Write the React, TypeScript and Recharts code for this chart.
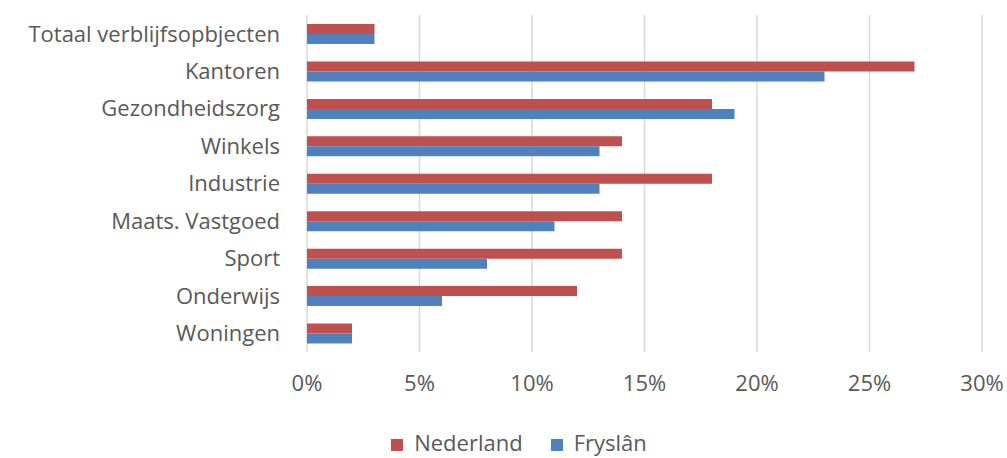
import React from 'react';
import { BarChart, Bar, XAxis, YAxis, CartesianGrid, Legend } from 'recharts';

const categories = [
    'Totaal verblijfsopbjecten',
    'Kantoren',
    'Gezondheidszorg',
    'Winkels',
    'Industrie',
    'Maats. Vastgoed',
    'Sport',
    'Onderwijs',
    'Woningen',
];
const nederland = [3, 27, 18, 14, 18, 14, 14, 12, 2];
const fryslan = [3, 23, 19, 13, 13, 11, 8, 6, 2];
const xTicks = [0, 5, 10, 15, 20, 25, 30];

const data = categories.map((name, i) => ({ name, Nederland: nederland[i], Fryslan: fryslan[i] }));

const textColor = '#595959';
const font = '"Open Sans", sans-serif';
const legendOrder: Record<string, number> = { Nederland: 0, 'Fryslân': 1 };

export default function App() {
    return (
        <div style={{ position: 'absolute', left: 0, top: 0, width: 1007, height: 458, background: '#fff' }}>
            <BarChart
                width={1007}
                height={458}
                data={data}
                layout="vertical"
                margin={{ top: 15, right: 25, left: 0, bottom: 1 }}
                barGap={0}
                barSize={10}
            >
                <CartesianGrid horizontal={false} stroke="#d9d9d9" strokeWidth={1.5} />
                <XAxis
                    type="number"
                    domain={[0, 30]}
                    ticks={xTicks}
                    tickFormatter={(v) => `${v}%`}
                    axisLine={false}
                    tickLine={false}
                    tickMargin={17}
                    height={75}
                    tick={{ fill: textColor, fontSize: 22, fontFamily: font }}
                />
                <YAxis
                    type="category"
                    dataKey="name"
                    width={307}
                    axisLine={false}
                    tickLine={false}
                    tickMargin={21}
                    tick={{ fill: textColor, fontSize: 22, fontFamily: font }}
                />
                <Legend
                    verticalAlign="bottom"
                    iconType="square"
                    iconSize={12}
                    itemSorter={(item: any) => legendOrder[item.value] ?? 0}
                    wrapperStyle={{ fontFamily: font, fontSize: 22, color: textColor, left: 33 }}
                    formatter={(value) => (
                        <span style={{ color: textColor, marginLeft: 7, marginRight: value === 'Nederland' ? 18 : 0 }}>
                            {value}
                        </span>
                    )}
                />
                <Bar dataKey="Nederland" name="Nederland" fill="#C0504D" isAnimationActive={false} />
                <Bar dataKey="Fryslan" name="Fryslân" fill="#4F81BD" isAnimationActive={false} />
            </BarChart>
        </div>
    );
}
